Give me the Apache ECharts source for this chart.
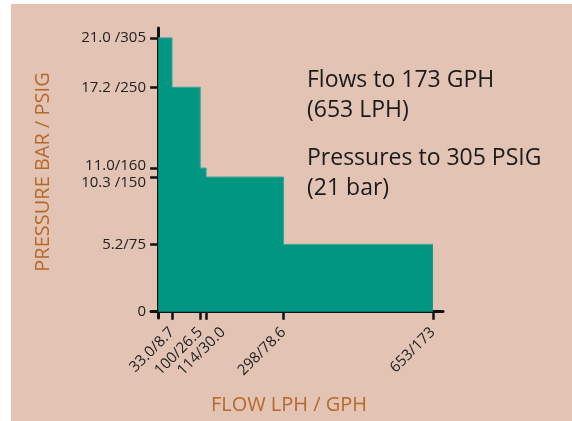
<!DOCTYPE html>
<html>
<head>
<meta charset="utf-8">
<script src="https://cdn.jsdelivr.net/npm/echarts@6/dist/echarts.min.js"></script>
<style>
  html, body { margin: 0; padding: 0; background: #fff; }
  #chart { width: 572px; height: 421px; }
</style>
</head>
<body>
<div id="chart"></div>
<script>
// step limits: flow where each pressure step ends (LPH) and max pressure (PSIG)
const flowLph = [0, 33, 100, 114, 298, 653]
const pressurePsi = [305, 305, 250, 160, 150, 75]

// tick labels
const flowTicks = [33, 100, 114, 298, 653]
const flowLabels = ['33.0/8.7', '100/26.5', '114/30.0', '298/78.6', '653/173']
const pressureTicks = [0, 75, 150, 160, 250, 305]
const pressureLabels = ['0', '5.2/75', '10.3 /150', '11.0/160', '17.2 /250', '21.0 /305']

const font = 'Open Sans'
const ink = '#111'
const nameColor = '#b5692b'

// the 114 label is pushed right so it clears the 100 label
const labelNudge = { 114: 40 }
const flowLabelAt = flowTicks.map(v => v + (labelNudge[v] || 0))

const chart = echarts.init(document.getElementById('chart'))

chart.setOption({
  backgroundColor: '#fff',
  animation: false,
  textStyle: { fontFamily: font },
  graphic: [
    {
      type: 'rect',
      z: -100,
      left: 11,
      top: 4,
      shape: { width: 561, height: 417 },
      style: { fill: '#e2c3b4' },
      silent: true
    },
    {
      type: 'text',
      x: 43,
      y: 172,
      rotation: Math.PI / 2,
      style: {
        text: 'PRESSURE BAR / PSIG',
        fontFamily: font,
        fontSize: 20,
        fill: nameColor,
        align: 'center',
        verticalAlign: 'middle'
      }
    },
    {
      type: 'text',
      left: 307,
      top: 65,
      style: {
        text: 'Flows to 173 GPH\n(653 LPH)',
        fontFamily: font,
        fontSize: 23,
        lineHeight: 30,
        fill: '#1a1a1a'
      }
    },
    {
      type: 'text',
      left: 307,
      top: 143,
      style: {
        text: 'Pressures to 305 PSIG\n(21 bar)',
        fontFamily: font,
        fontSize: 23,
        lineHeight: 30,
        fill: '#1a1a1a'
      }
    }
  ],
  grid: {
    left: 151,
    top: 28,
    width: 292,
    height: 290,
    containLabel: false,
    outerBoundsMode: 'none'
  },
  xAxis: {
    type: 'value',
    min: -17,
    max: 677,
    name: 'FLOW LPH / GPH',
    nameLocation: 'middle',
    nameGap: 77,
    nameMoveOverlap: false,
    nameTextStyle: {
      color: nameColor,
      fontSize: 20,
      fontFamily: font,
      padding: [0, 16, 0, 0]
    },
    splitLine: { show: false },
    axisLine: {
      onZero: true,
      lineStyle: { color: ink, width: 3 }
    },
    axisTick: {
      customValues: flowTicks,
      length: 8,
      lineStyle: { color: ink, width: 2.5 }
    },
    axisLabel: {
      customValues: flowLabelAt,
      rotate: 45,
      margin: 12,
      hideOverlap: false,
      color: '#222',
      fontSize: 15,
      fontFamily: font,
      formatter: v => flowLabels[flowLabelAt.indexOf(v)]
    }
  },
  yAxis: {
    type: 'value',
    min: -7,
    max: 316,
    splitLine: { show: false },
    axisLine: {
      onZero: true,
      lineStyle: { color: ink, width: 3 }
    },
    axisTick: {
      customValues: pressureTicks,
      length: 8,
      lineStyle: { color: ink, width: 2.5 }
    },
    axisLabel: {
      customValues: pressureTicks,
      margin: 5,
      hideOverlap: false,
      color: '#222',
      fontSize: 15,
      fontFamily: font,
      formatter: v => {
        const text = pressureLabels[pressureTicks.indexOf(v)]
        if (v === 160) return '{up|' + text + '}'
        if (v === 150) return '{down|' + text + '}'
        return text
      },
      rich: {
        up: { fontSize: 15, fontFamily: font, color: '#222', padding: [0, 0, 4, 0] },
        down: { fontSize: 15, fontFamily: font, color: '#222', padding: [12, 0, 0, 0] }
      }
    }
  },
  series: [{
    type: 'line',
    step: 'start',
    symbol: 'none',
    data: flowLph.map((f, i) => [f, pressurePsi[i]]),
    lineStyle: { color: '#3ea796', width: 1 },
    areaStyle: { color: '#009681', opacity: 1 },
    z: 1
  }]
})
</script>
</body>
</html>
